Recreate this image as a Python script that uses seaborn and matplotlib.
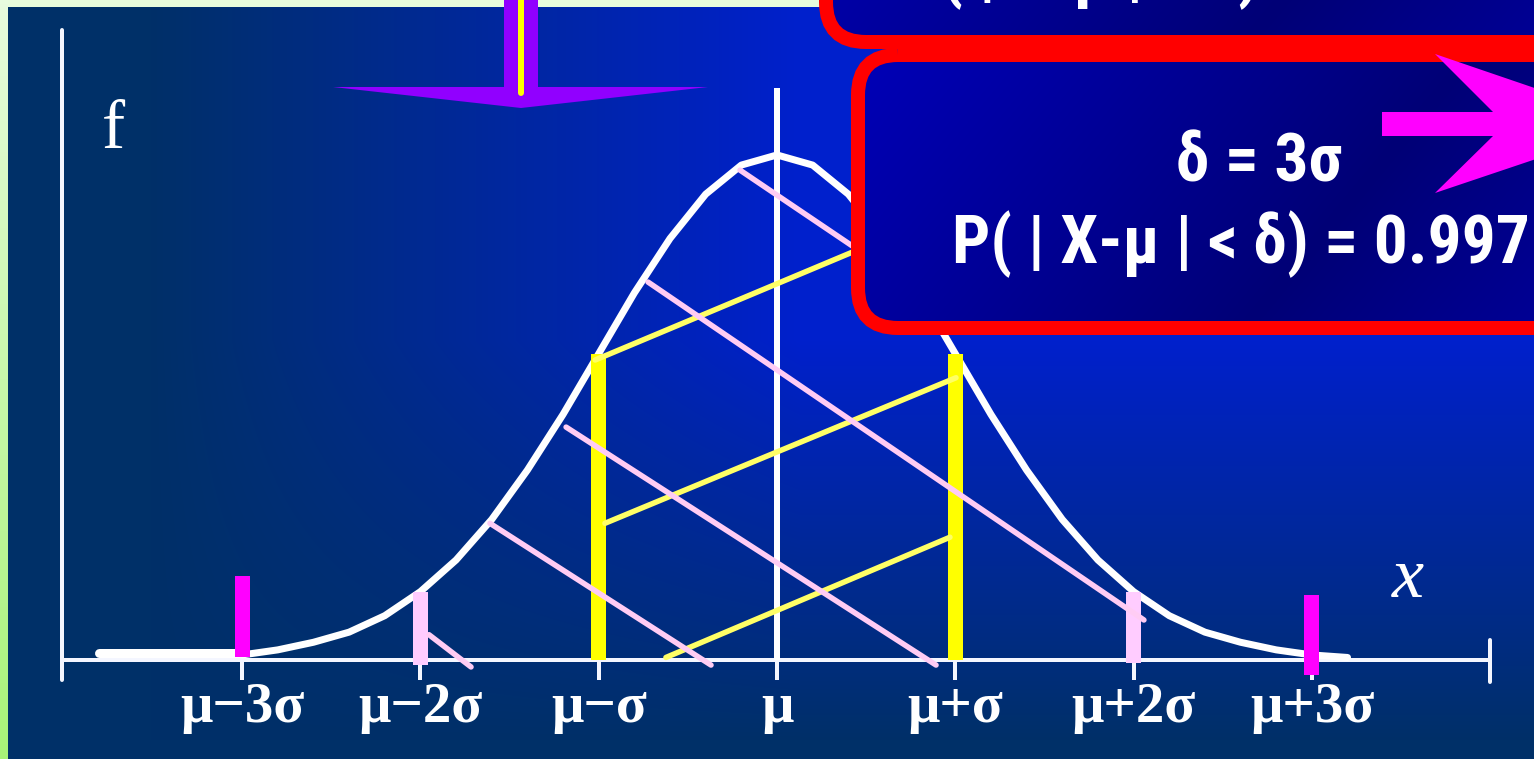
import numpy as np
import matplotlib
matplotlib.use("Agg")
import matplotlib.pyplot as plt
from matplotlib.patches import FancyBboxPatch, Polygon
import seaborn as sns

W, H = 1534, 759

# ---- data (x measured in units of sigma from the mean) ----
curve_x = [-3.0, -2.8, -2.6, -2.4, -2.2, -2.0, -1.8, -1.6, -1.4, -1.2, -1.0,
           -0.8, -0.6, -0.4, -0.2, 0.0, 0.2, 0.4, 0.6, 0.8, 1.0, 1.2, 1.4,
           1.6, 1.8, 2.0, 2.2, 2.4, 2.6, 2.8, 3.0, 3.2]
curve_f = [0.004, 0.008, 0.014, 0.022, 0.035, 0.054, 0.079, 0.111, 0.150,
           0.194, 0.242, 0.290, 0.333, 0.368, 0.391, 0.399, 0.391, 0.368,
           0.333, 0.290, 0.242, 0.194, 0.150, 0.111, 0.079, 0.054, 0.035,
           0.022, 0.014, 0.008, 0.004, 0.002]
tail_x = [-3.8, -3.0]
tail_f = [0.0055, 0.0055]

tick_pos = [-3, -2, -1, 0, 1, 2, 3]
tick_labels = ["μ−3σ", "μ−2σ", "μ−σ", "μ", "μ+σ", "μ+2σ", "μ+3σ"]

axis_x = [-4.01, 4.0]
y_axis_top = 0.498
tick_len = 0.016
mean_line_top = 0.452

# band edges: one sigma (yellow), two sigma (pink), three sigma (magenta)
band1_x = [-1, 1]
band1_bottom = [0.0, 0.0]
band1_top = [0.242, 0.242]
band2_x = [-2, 2]
band2_bottom = [-0.004, -0.002]
band2_top = [0.054, 0.054]
band3_x = [-3, 3]
band3_bottom = [0.002, -0.012]
band3_top = [0.066, 0.051]

# hatch strokes across the central region
yellow_x0 = [-1.020, -0.965, -0.623]
yellow_y0 = [0.237, 0.108, 0.002]
yellow_x1 = [0.690, 1.004, 0.970]
yellow_y1 = [0.338, 0.223, 0.097]
pink_x0 = [-0.2075, -0.7235, -1.183, -1.610, -1.952]
pink_y0 = [0.387, 0.2986, 0.184, 0.108, 0.020]
pink_x1 = [0.802, 2.058, 0.892, -0.370, -1.716]
pink_y1 = [0.291, 0.0316, -0.004, -0.004, -0.0055]

box_line1 = "δ = 3σ"
box_line2 = "P( | X-μ | < δ) = 0.997"
prev_box_line = "P( | X-μ | < δ) = 0.954"

# ---- figure ----
sns.set_style("white")
plt.rcParams["font.family"] = ["Liberation Serif", "DejaVu Serif"]
PX = 0.72  # points per pixel at dpi 100

fig = plt.figure(figsize=(W / 100, H / 100), dpi=100)
fig.patch.set_facecolor("#e8fcdc")

# background layer in pixel coordinates
bg = fig.add_axes([0, 0, 1, 1], zorder=0)
yy, xx = np.mgrid[7:H, 8:W].astype(float)
xf = np.clip((xx - 150) / 650, 0, 1)
yf = np.clip((740 - yy) / 400, 0, 1)
b = (xf * yf)[..., None]
navy = np.array([0, 48, 104]) / 255
bright = np.array([0, 32, 204]) / 255
bg.imshow(navy + (bright - navy) * b, extent=(8, W, H, 7), aspect="auto",
          interpolation="bilinear")
ys = np.linspace(0, 1, 200)[:, None, None]
c_top = np.array([232, 252, 222])
c_bot = np.array([168, 242, 120])
strip = np.repeat((c_top + (c_bot - c_top) * ys) / 255, 2, axis=1)
bg.imshow(strip, extent=(0, 8, H, 0), aspect="auto")
bg.set_xlim(0, W)
bg.set_ylim(H, 0)
bg.axis("off")

# chart layer in data coordinates
ax = fig.add_axes([0, 0, 1, 1], zorder=1)
ax.patch.set_alpha(0)
ax.set_xlim(-777 / 178.3, (W - 777) / 178.3)
ax.set_ylim(-99 / 1265.8, 660 / 1265.8)
ax.axis("off")

axis_col = "#f4f6ff"
ax.plot(axis_x, [0, 0], color=axis_col, lw=4 * PX, solid_capstyle="butt", zorder=2)
ax.plot([axis_x[0]] * 2, [-tick_len, y_axis_top], color=axis_col, lw=4 * PX,
        solid_capstyle="round", zorder=2)
ax.plot([axis_x[1]] * 2, [-tick_len * 1.1, tick_len], color=axis_col, lw=4 * PX,
        solid_capstyle="round", zorder=2)
ax.vlines(tick_pos, -tick_len, 0, color=axis_col, lw=4 * PX, zorder=2)

sns.lineplot(x=tail_x, y=tail_f, ax=ax, color="white", linewidth=9 * PX,
             solid_capstyle="round", zorder=3)
sns.lineplot(x=curve_x, y=curve_f, ax=ax, color="white", linewidth=7 * PX,
             solid_capstyle="round", solid_joinstyle="round", zorder=3)

ax.plot([0, 0], [0, mean_line_top], color="white", lw=6 * PX, zorder=4,
        solid_capstyle="butt")

bw = 15 / 178.3
for xs, bot, top, col in [(band1_x, band1_bottom, band1_top, "#ffff00"),
                          (band2_x, band2_bottom, band2_top, "#ffccff"),
                          (band3_x, band3_bottom, band3_top, "#ff00ff")]:
    ax.bar(xs, np.array(top) - np.array(bot), bottom=bot, width=bw, color=col,
           linewidth=0, zorder=5)

for x0, y0, x1, y1 in zip(yellow_x0, yellow_y0, yellow_x1, yellow_y1):
    ax.plot([x0, x1], [y0, y1], color="#ffff66", lw=5.5 * PX, zorder=6)
for x0, y0, x1, y1 in zip(pink_x0, pink_y0, pink_x1, pink_y1):
    ax.plot([x0, x1], [y0, y1], color="#ffccf4", lw=5.5 * PX, zorder=7)

for t, lab in zip(tick_pos, tick_labels):
    ax.text(t, -0.049, lab, ha="center", va="baseline", fontsize=41,
            fontweight="bold", color="white",
            family=["Liberation Serif", "DejaVu Serif"])

# overlay layer in pixel coordinates
ov = fig.add_axes([0, 0, 1, 1], zorder=2)
ov.patch.set_alpha(0)
ov.set_xlim(0, W)
ov.set_ylim(H, 0)
ov.axis("off")

ov.text(102, 148, "f", fontsize=50, color="white", va="baseline", ha="left",
        family=["Liberation Serif", "DejaVu Serif"])
ov.text(1392, 597, "x", fontsize=52, color="white", va="baseline", ha="left",
        style="italic", family=["Liberation Serif", "DejaVu Serif"])

# arrow pointing down from above
ov.add_patch(Polygon([(504, -10), (538, -10), (538, 87), (708, 87), (521, 108),
                      (333, 87), (504, 87)], closed=True, fc="#9100ff", ec="none",
                     zorder=3))
ov.plot([520.5, 520.5], [-10, 93], color="#ffff00", lw=6 * PX,
        solid_capstyle="round", zorder=4)

gy, gx = np.mgrid[0:H, 0:W].astype(float)
dark = np.array([0, 0, 118]) / 255
light = np.array([0, 0, 180]) / 255


def box_with_fill(xy, w, h, yoff, z):
    style = "round,pad=0,rounding_size=40"
    clip = FancyBboxPatch(xy, w, h, boxstyle=style, fc="none", ec="none", zorder=z)
    ov.add_patch(clip)
    s = 0.77 * gx + 0.64 * (gy - yoff)
    k = np.clip(np.abs(s - 1168) / 446, 0, 1)[..., None]
    img = ov.imshow(dark + (light - dark) * k, extent=(0, W, H, 0), aspect="auto",
                    zorder=z, interpolation="bilinear")
    img.set_clip_path(clip)
    ov.add_patch(FancyBboxPatch(xy, w, h, boxstyle=style, fc="none",
                                ec="#ff0000", lw=14 * PX, zorder=z + 0.2))


box_with_fill((826, -320), 900, 362, -283, 5)
box_with_fill((858, 55), 900, 273, 0, 7)

sans = ["Liberation Sans Narrow", "Roboto Condensed", "Liberation Sans", "DejaVu Sans"]
fig.canvas.draw()
renderer = fig.canvas.get_renderer()
t2 = ov.text(952, 263, box_line2, ha="left", va="baseline", fontsize=52,
             fontweight="bold", color="white", family=sans, zorder=9)
wpx = t2.get_window_extent(renderer).width
fs = min(54, 52 * 578 / wpx)
t2.set_fontsize(fs)
ov.text(1259, 181, box_line1, ha="center", va="baseline", fontsize=fs,
        fontweight="bold", color="white", family=sans, zorder=9)
ov.text(903, 10, prev_box_line, ha="left", va="bottom", fontsize=fs,
        fontweight="bold", color="white", family=sans, zorder=5.5)

# arrow pointing right inside the box
ov.add_patch(Polygon([(1382, 112), (1493, 112), (1435, 54), (1640, 124),
                      (1435, 193), (1493, 136), (1382, 136)], closed=True,
                     fc="#ff00ff", ec="none", zorder=10))

ov.set_xlim(0, W)
ov.set_ylim(H, 0)
fig.savefig("out.png", dpi=100, facecolor=fig.get_facecolor())
